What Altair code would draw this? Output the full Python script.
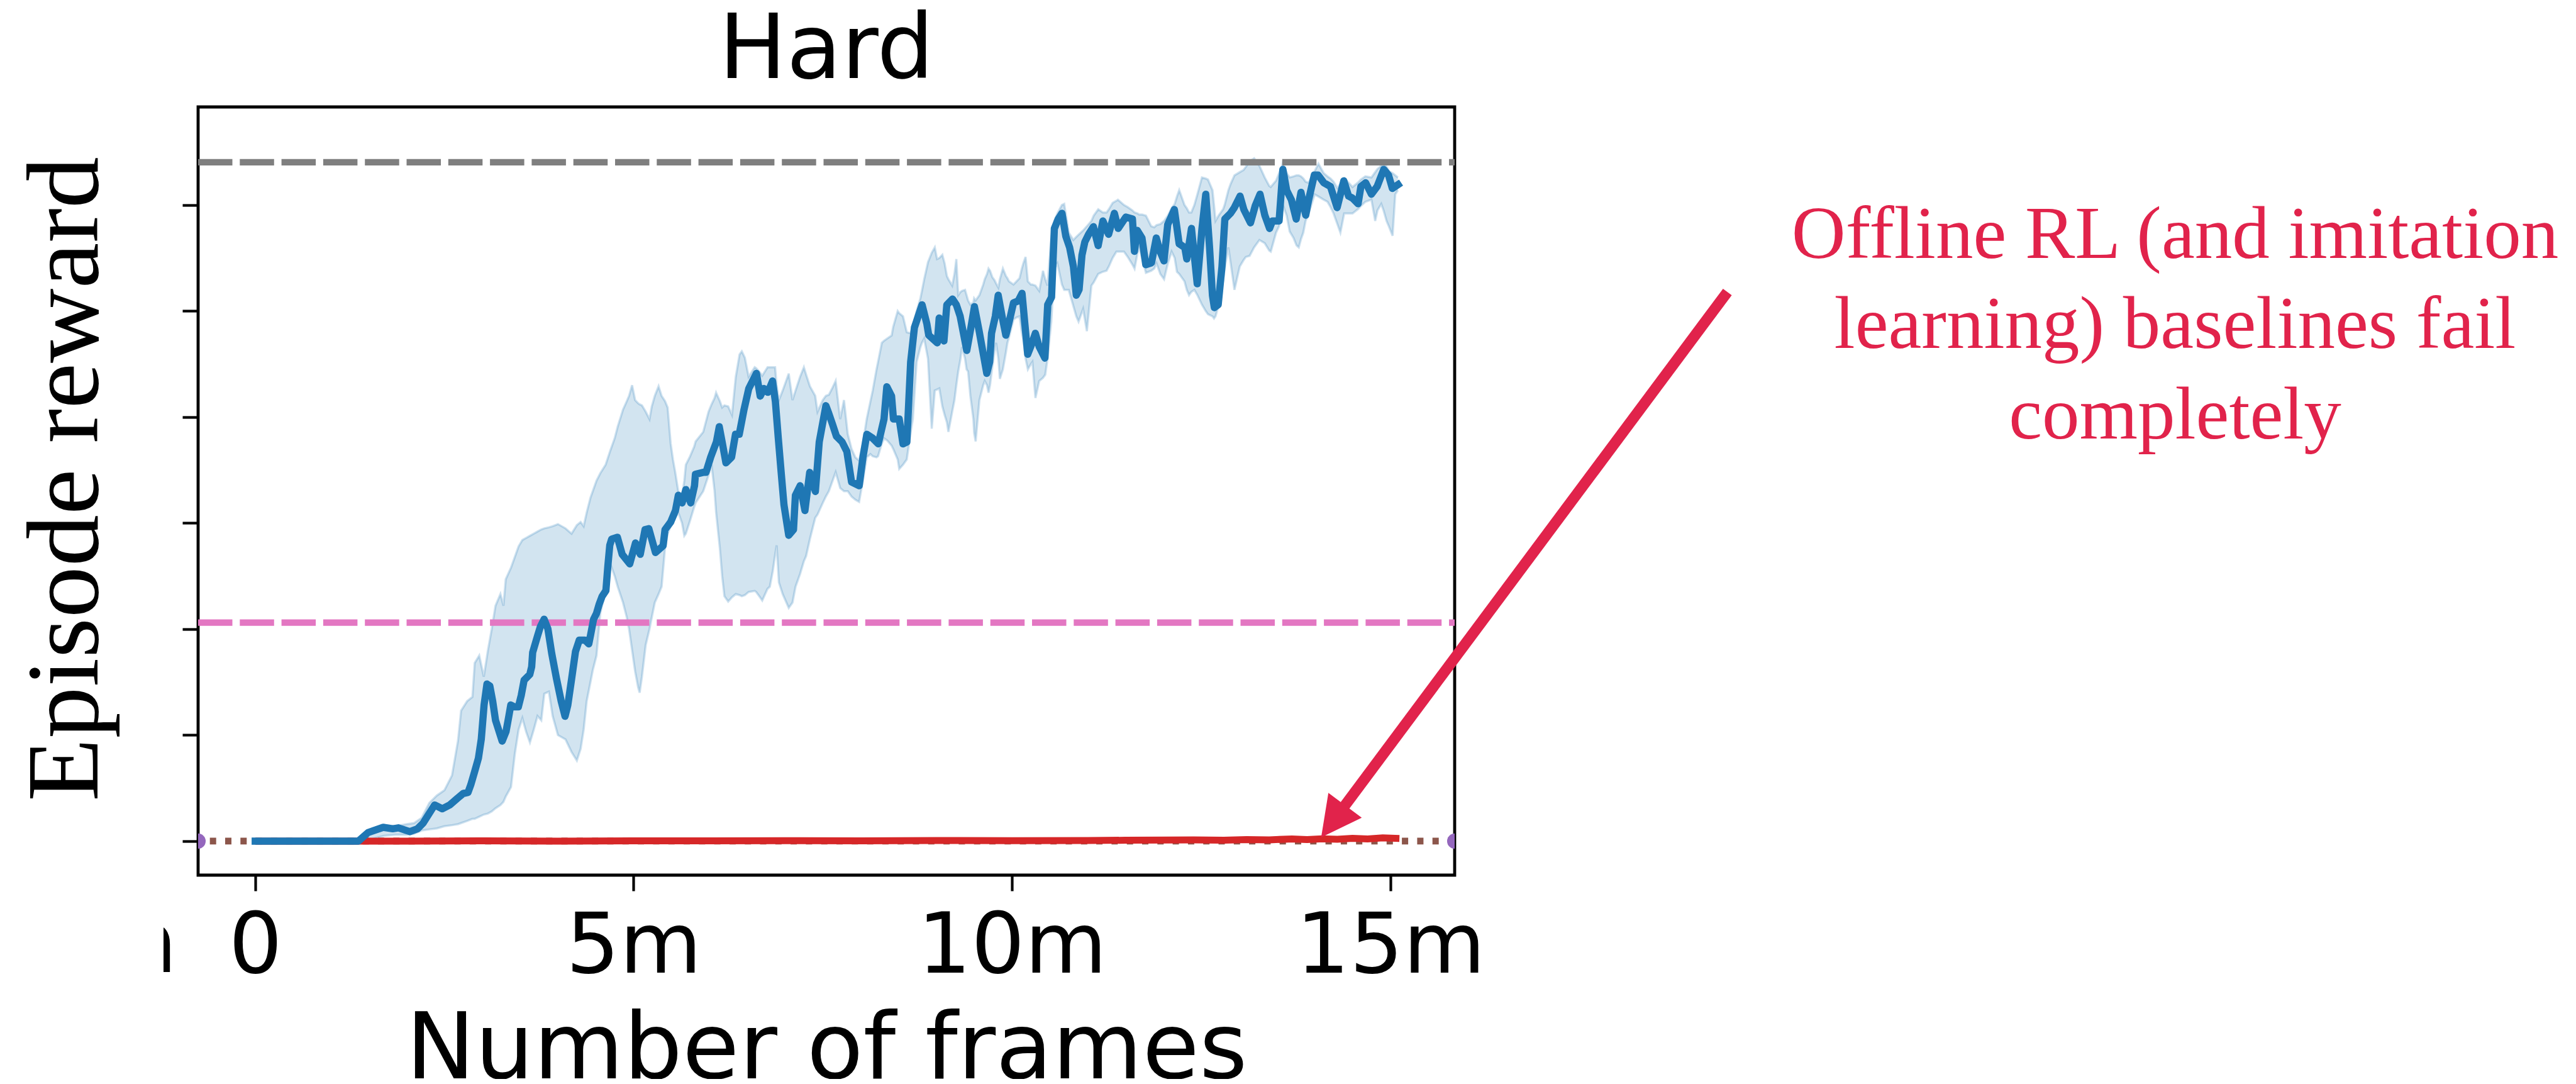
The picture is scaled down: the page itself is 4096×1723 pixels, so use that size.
import math
import altair as alt
import pandas as pd

# ------------------------------------------------------------------ data
title_text = "Hard"
x_title = "Number of frames"
y_title = "Episode reward"
x_ticks = [0, 5, 10, 15]
x_tick_labels = ["0", "5m", "10m", "15m"]
y_ticks = [0, 1, 2, 3, 4, 5, 6]
x_domain = [-0.755, 15.85]
y_domain = [-0.321, 6.925]
stray_label = "m"   # clipped remnant of a neighbouring tick label at the far left

# mean episode reward of the method (millions of frames, reward units)
mean_x = [
    0.0, 1.364, 1.49, 1.691, 1.817, 1.892, 2.043, 2.144, 2.219, 2.37,
    2.471, 2.571, 2.672, 2.748, 2.811, 2.848, 2.899, 2.949, 2.987, 3.024,
    3.062, 3.1, 3.138, 3.175, 3.263, 3.314, 3.351, 3.377, 3.427, 3.477,
    3.515, 3.553, 3.628, 3.653, 3.666, 3.729, 3.767, 3.817, 3.867, 3.918,
    3.98, 4.043, 4.094, 4.131, 4.182, 4.232, 4.282, 4.358, 4.408, 4.433,
    4.471, 4.509, 4.546, 4.584, 4.634, 4.66, 4.685, 4.71, 4.786, 4.849,
    4.949, 5.025, 5.088, 5.151, 5.201, 5.289, 5.39, 5.415, 5.49, 5.553,
    5.591, 5.641, 5.691, 5.754, 5.805, 5.817, 5.918, 5.956, 6.019, 6.094,
    6.132, 6.17, 6.22, 6.295, 6.346, 6.396, 6.459, 6.522, 6.623, 6.673,
    6.723, 6.774, 6.836, 6.874, 6.912, 6.95, 6.987, 7.05, 7.113, 7.138,
    7.201, 7.264, 7.327, 7.402, 7.453, 7.541, 7.579, 7.629, 7.68, 7.755,
    7.818, 7.88, 7.981, 8.031, 8.082, 8.158, 8.233, 8.309, 8.346, 8.409,
    8.434, 8.51, 8.56, 8.611, 8.661, 8.711, 8.761, 8.812, 8.875, 8.9,
    9.013, 9.038, 9.101, 9.139, 9.214, 9.265, 9.315, 9.403, 9.453, 9.504,
    9.567, 9.617, 9.667, 9.705, 9.73, 9.78, 9.818, 9.869, 9.919, 9.957,
    10.02, 10.082, 10.133, 10.17, 10.208, 10.258, 10.309, 10.359, 10.435, 10.472,
    10.523, 10.56, 10.611, 10.661, 10.711, 10.762, 10.812, 10.85, 10.887, 10.925,
    10.963, 11.013, 11.076, 11.139, 11.202, 11.277, 11.353, 11.404, 11.504, 11.592,
    11.618, 11.655, 11.718, 11.768, 11.844, 11.907, 11.957, 12.008, 12.058, 12.146,
    12.209, 12.284, 12.31, 12.372, 12.448, 12.511, 12.561, 12.611, 12.649, 12.674,
    12.725, 12.775, 12.813, 12.888, 12.939, 13.014, 13.064, 13.152, 13.215, 13.278,
    13.341, 13.404, 13.442, 13.53, 13.58, 13.63, 13.693, 13.756, 13.819, 13.882,
    13.92, 13.995, 14.046, 14.121, 14.209, 14.297, 14.385, 14.448, 14.498, 14.574,
    14.611, 14.674, 14.75, 14.825, 14.913, 14.976, 15.027, 15.102,
]
mean_y = [
    0.0, 0.0, 0.08, 0.13, 0.116, 0.125, 0.089, 0.116, 0.17, 0.341,
    0.305, 0.341, 0.404, 0.449, 0.458, 0.53, 0.655, 0.781, 0.961, 1.284,
    1.482, 1.464, 1.32, 1.141, 0.943, 1.033, 1.177, 1.284, 1.266, 1.266,
    1.374, 1.518, 1.572, 1.644, 1.779, 1.932, 2.021, 2.093, 2.003, 1.77,
    1.536, 1.32, 1.177, 1.284, 1.536, 1.788, 1.896, 1.896, 1.86, 1.95,
    2.093, 2.147, 2.237, 2.309, 2.363, 2.597, 2.79, 2.848, 2.866, 2.705,
    2.615, 2.812, 2.705, 2.938, 2.947, 2.722, 2.786, 2.938, 3.01, 3.118,
    3.262, 3.19, 3.316, 3.19, 3.352, 3.46, 3.478, 3.478, 3.622, 3.765,
    3.909, 3.765, 3.568, 3.622, 3.837, 3.837, 4.071, 4.269, 4.412, 4.197,
    4.269, 4.233, 4.34, 4.143, 3.801, 3.478, 3.172, 2.884, 2.938, 3.262,
    3.352, 3.118, 3.478, 3.298, 3.765, 4.107, 4.035, 3.93, 3.819, 3.765,
    3.675, 3.388, 3.352, 3.622, 3.837, 3.801, 3.747, 3.981, 4.286, 4.197,
    3.981, 3.981, 3.747, 3.765, 4.52, 4.844, 4.951, 5.059, 4.88, 4.772,
    4.7, 4.934, 4.718, 5.059, 5.113, 5.059, 4.951, 4.628, 4.826, 5.041,
    4.808, 4.61, 4.412, 4.52, 4.79, 4.951, 5.149, 4.951, 4.772, 4.88,
    5.077, 5.095, 5.167, 4.88, 4.592, 4.682, 4.79, 4.664, 4.556, 5.059,
    5.131, 5.778, 5.868, 5.922, 5.706, 5.599, 5.419, 5.149, 5.203, 5.527,
    5.652, 5.724, 5.796, 5.617, 5.85, 5.724, 5.922, 5.779, 5.886, 5.868,
    5.563, 5.761, 5.689, 5.437, 5.455, 5.689, 5.563, 5.473, 5.815, 5.958,
    5.635, 5.599, 5.491, 5.779, 5.257, 5.779, 6.102, 5.599, 5.149, 5.032,
    5.059, 5.419, 5.868, 5.922, 5.976, 6.084, 5.958, 5.832, 5.994, 6.102,
    5.904, 5.779, 5.85, 5.85, 6.336, 6.138, 6.048, 5.868, 6.12, 5.904,
    6.048, 6.282, 6.282, 6.21, 6.174, 5.976, 6.228, 6.084, 6.066, 6.012,
    6.174, 6.21, 6.102, 6.174, 6.336, 6.282, 6.156, 6.192,
]

# shaded spread around the mean
band_x = [
    1.364, 1.45, 1.55, 1.7, 1.85, 2.0, 2.1, 2.2, 2.3, 2.4,
    2.5, 2.6, 2.68, 2.72, 2.8, 2.87, 2.9, 2.96, 3.02, 3.075,
    3.125, 3.175, 3.24, 3.28, 3.31, 3.38, 3.43, 3.48, 3.53, 3.58,
    3.63, 3.68, 3.73, 3.78, 3.82, 3.88, 3.93, 4.0, 4.1, 4.18,
    4.25, 4.3, 4.34, 4.38, 4.43, 4.46, 4.51, 4.56, 4.63, 4.69,
    4.75, 4.79, 4.86, 4.91, 4.94, 4.98, 5.02, 5.06, 5.08, 5.11,
    5.16, 5.21, 5.24, 5.28, 5.33, 5.37, 5.415, 5.45, 5.49, 5.52,
    5.55, 5.59, 5.64, 5.67, 5.69, 5.74, 5.8, 5.82, 5.92, 5.99,
    6.03, 6.07, 6.09, 6.14, 6.17, 6.2, 6.25, 6.3, 6.35, 6.4,
    6.43, 6.47, 6.52, 6.6, 6.62, 6.67, 6.7, 6.77, 6.8, 6.84,
    6.87, 6.89, 6.92, 6.97, 7.05, 7.1, 7.14, 7.2, 7.25, 7.28,
    7.33, 7.4, 7.43, 7.5, 7.54, 7.58, 7.63, 7.67, 7.73, 7.78,
    7.83, 7.88, 7.93, 7.98, 8.03, 8.08, 8.13, 8.16, 8.21, 8.23,
    8.28, 8.31, 8.35, 8.41, 8.43, 8.49, 8.51, 8.56, 8.61, 8.66,
    8.69, 8.74, 8.79, 8.81, 8.84, 8.89, 8.94, 8.98, 9.01, 9.04,
    9.08, 9.11, 9.14, 9.16, 9.21, 9.24, 9.265, 9.29, 9.32, 9.34,
    9.38, 9.4, 9.42, 9.45, 9.49, 9.5, 9.52, 9.57, 9.62, 9.64,
    9.67, 9.69, 9.71, 9.74, 9.77, 9.79, 9.82, 9.84, 9.88, 9.92,
    9.94, 9.96, 10.02, 10.06, 10.1, 10.13, 10.15, 10.18, 10.21, 10.25,
    10.27, 10.31, 10.36, 10.41, 10.44, 10.47, 10.52, 10.56, 10.6, 10.66,
    10.69, 10.75, 10.81, 10.85, 10.88, 10.94, 10.99, 11.05, 11.08, 11.14,
    11.2, 11.25, 11.28, 11.33, 11.38, 11.4, 11.48, 11.53, 11.59, 11.62,
    11.66, 11.68, 11.72, 11.77, 11.84, 11.88, 11.91, 11.96, 12.01, 12.06,
    12.11, 12.15, 12.18, 12.21, 12.28, 12.31, 12.34, 12.37, 12.41, 12.45,
    12.51, 12.56, 12.59, 12.65, 12.67, 12.69, 12.73, 12.79, 12.81, 12.86,
    12.89, 12.94, 13.01, 13.06, 13.09, 13.14, 13.2, 13.27, 13.34, 13.4,
    13.42, 13.49, 13.53, 13.57, 13.58, 13.63, 13.67, 13.72, 13.76, 13.79,
    13.82, 13.85, 13.88, 13.92, 14.0, 14.05, 14.12, 14.17, 14.21, 14.25,
    14.3, 14.34, 14.39, 14.45, 14.5, 14.57, 14.61, 14.67, 14.75, 14.8,
    14.83, 14.88, 14.91, 14.95, 14.98, 15.03, 15.065, 15.1,
]
band_lo = [
    0.0, 0.0, 0.02, 0.05, 0.06, 0.06, 0.07, 0.10, 0.11, 0.12,
    0.14, 0.15, 0.16, 0.17, 0.19, 0.21, 0.21, 0.23, 0.25, 0.26,
    0.28, 0.31, 0.34, 0.37, 0.42, 0.51, 0.82, 1.05, 1.16, 1.03,
    0.93, 1.05, 1.18, 1.14, 1.39, 1.41, 1.18, 1.00, 0.96, 0.84,
    0.76, 0.87, 1.05, 1.32, 1.50, 1.61, 1.75, 2.15, 2.36, 2.62,
    2.50, 2.40, 2.25, 2.11, 2.00, 1.80, 1.60, 1.45, 1.40, 1.55,
    1.85, 2.00, 2.11, 2.25, 2.33, 2.40, 2.76, 2.90, 2.97, 3.01,
    3.05, 3.10, 3.00, 2.88, 2.90, 3.01, 3.15, 3.19, 3.30, 3.45,
    3.55, 3.30, 3.10, 2.76, 2.50, 2.31, 2.26, 2.30, 2.33, 2.32,
    2.31, 2.32, 2.35, 2.36, 2.35, 2.30, 2.27, 2.38, 2.40, 2.55,
    2.70, 2.79, 2.44, 2.33, 2.20, 2.25, 2.40, 2.52, 2.64, 2.69,
    2.85, 3.05, 3.08, 3.19, 3.25, 3.30, 3.40, 3.48, 3.33, 3.30,
    3.30, 3.25, 3.22, 3.20, 3.40, 3.62, 3.65, 3.63, 3.62, 3.63,
    3.75, 3.80, 3.78, 3.73, 3.70, 3.60, 3.51, 3.55, 3.60, 3.85,
    3.98, 4.52, 4.66, 4.70, 4.74, 4.55, 3.89, 4.25, 4.26, 4.27,
    4.10, 4.02, 3.95, 3.86, 4.05, 4.16, 4.30, 4.43, 4.55, 4.66,
    4.55, 4.45, 4.43, 4.20, 3.98, 3.85, 3.77, 4.16, 4.30, 4.34,
    4.30, 4.23, 4.30, 4.47, 4.62, 4.70, 4.55, 4.36, 4.45, 4.61,
    4.70, 4.75, 4.92, 4.94, 4.95, 4.80, 4.73, 4.55, 4.45, 4.50,
    4.52, 4.18, 4.34, 4.37, 4.40, 4.55, 4.90, 5.40, 5.45, 5.25,
    5.20, 5.20, 5.05, 4.95, 4.90, 5.02, 4.81, 5.24, 5.27, 5.35,
    5.37, 5.38, 5.42, 5.50, 5.56, 5.56, 5.56, 5.51, 5.44, 5.40,
    5.55, 5.60, 5.50, 5.36, 5.38, 5.40, 5.45, 5.35, 5.30, 5.45,
    5.56, 5.50, 5.37, 5.35, 5.28, 5.20, 5.15, 5.18, 5.20, 5.15,
    5.06, 5.00, 4.97, 4.95, 4.93, 4.95, 5.05, 5.29, 5.40, 5.60,
    5.45, 5.20, 5.42, 5.48, 5.51, 5.52, 5.60, 5.67, 5.64, 5.57,
    5.56, 5.74, 5.80, 5.96, 6.00, 5.90, 5.75, 5.69, 5.62, 5.60,
    5.68, 5.74, 5.85, 5.92, 6.10, 6.08, 6.05, 6.03, 5.98, 5.92,
    5.82, 5.74, 5.92, 5.92, 5.92, 5.96, 5.99, 6.03, 6.05, 5.85,
    5.95, 6.01, 5.95, 5.85, 5.80, 5.71, 6.10, 6.14,
]
band_hi = [
    0.0, 0.07, 0.12, 0.15, 0.14, 0.16, 0.17, 0.22, 0.36, 0.43,
    0.48, 0.62, 0.95, 1.23, 1.32, 1.36, 1.68, 1.75, 1.55, 1.80,
    2.00, 2.22, 2.33, 2.22, 2.47, 2.58, 2.68, 2.78, 2.84, 2.86,
    2.88, 2.90, 2.92, 2.94, 2.95, 2.96, 2.97, 2.99, 2.95, 2.90,
    2.98, 3.01, 2.97, 3.10, 3.24, 3.30, 3.40, 3.47, 3.55, 3.68,
    3.80, 3.91, 4.07, 4.15, 4.20, 4.30, 4.16, 4.13, 4.12, 4.11,
    4.05, 3.98, 4.10, 4.20, 4.29, 4.20, 4.15, 4.09, 3.75, 3.60,
    3.48, 3.30, 3.25, 3.40, 3.55, 3.62, 3.72, 3.77, 3.86, 4.05,
    4.12, 4.18, 4.23, 4.15, 4.09, 4.11, 4.10, 4.02, 4.38, 4.59,
    4.62, 4.56, 4.38, 4.47, 4.46, 4.42, 4.39, 4.47, 4.47, 4.47,
    4.47, 4.30, 4.16, 4.25, 4.41, 4.16, 4.25, 4.38, 4.47, 4.40,
    4.29, 4.20, 4.05, 4.16, 4.20, 4.21, 4.28, 4.34, 3.98, 4.16,
    3.84, 3.70, 3.62, 3.59, 3.75, 3.98, 4.15, 4.25, 4.45, 4.52,
    4.70, 4.72, 4.74, 4.77, 4.85, 5.00, 4.98, 4.95, 4.80, 4.79,
    4.85, 5.00, 5.12, 5.19, 5.30, 5.46, 5.55, 5.60, 5.49, 5.50,
    5.53, 5.45, 5.33, 5.30, 5.24, 5.35, 5.49, 5.15, 5.18, 5.19,
    5.20, 5.15, 5.10, 5.06, 5.08, 5.12, 5.10, 5.15, 5.25, 5.30,
    5.35, 5.40, 5.38, 5.32, 5.29, 5.26, 5.22, 5.30, 5.40, 5.33,
    5.31, 5.28, 5.25, 5.28, 5.31, 5.40, 5.45, 5.51, 5.28, 5.25,
    5.25, 5.24, 5.19, 5.38, 5.30, 5.24, 5.69, 5.85, 5.92, 6.00,
    6.01, 5.74, 5.67, 5.70, 5.72, 5.76, 5.80, 5.85, 5.90, 5.96,
    5.93, 5.93, 5.96, 6.02, 6.04, 6.05, 6.00, 5.98, 5.95, 5.93,
    5.92, 5.91, 5.91, 5.90, 5.80, 5.79, 5.81, 5.82, 5.85, 5.90,
    5.97, 6.01, 6.08, 6.14, 6.00, 5.97, 5.93, 5.93, 6.00, 6.10,
    6.26, 6.25, 6.24, 6.14, 6.00, 5.85, 5.90, 5.96, 6.00, 6.14,
    6.20, 6.28, 6.31, 6.33, 6.36, 6.41, 6.44, 6.37, 6.26, 6.18,
    6.17, 6.23, 6.30, 6.37, 6.40, 6.30, 6.26, 6.27, 6.28, 6.28,
    6.27, 6.25, 6.22, 6.21, 6.32, 6.39, 6.30, 6.27, 6.25, 6.22,
    6.16, 6.20, 6.25, 6.21, 6.17, 6.21, 6.24, 6.27, 6.26, 6.31,
    6.34, 6.37, 6.39, 6.36, 6.32, 6.30, 6.28, 6.26,
]

# offline RL / imitation baselines (flat at zero)
offline_x = [0.0, 1.0, 2.0, 3.0, 4.0, 5.0, 6.0, 7.0, 8.0, 9.0, 10.0, 11.0, 11.5,
             12.0, 12.4, 12.8, 13.1, 13.4, 13.7, 13.9, 14.1, 14.3, 14.5, 14.7, 14.9, 15.12]
offline_y = [0.0, 0.0, 0.0, 0.002, 0.0, 0.003, 0.002, 0.004, 0.003, 0.005, 0.004, 0.006, 0.008,
             0.01, 0.012, 0.009, 0.015, 0.012, 0.02, 0.015, 0.022, 0.018, 0.026, 0.02, 0.03, 0.025]

expert_level = 6.404   # grey dashed reference
demo_level = 2.061     # pink dashed reference
zero_level = 0.0       # brown dotted / purple reference

note_lines = ["Offline RL (and imitation", "learning) baselines fail", "completely"]
arrow_start = (19.454, 5.180)   # data coords of the arrow tail
arrow_tip = (14.086, 0.035)     # data coords of the arrow tip
note_pos = (25.37, 5.503)       # data coords of the first text baseline

# ------------------------------------------------------------------ layout
W, H = 1998, 1221
NOTE = "#e1234b"
px_x = W / (x_domain[1] - x_domain[0])
px_y = H / (y_domain[1] - y_domain[0])

# arrow geometry (pixel space)
dxp = (arrow_tip[0] - arrow_start[0]) * px_x
dyp = -(arrow_tip[1] - arrow_start[1]) * px_y
L = math.hypot(dxp, dyp)
ux, uy = dxp / L, dyp / L
HEAD_LEN = 63.6
head_angle = (math.degrees(math.atan2(ux, -uy)) + 360) % 360
shaft_end = (arrow_tip[0] - ux * 55 / px_x, arrow_tip[1] + uy * 55 / px_y)
head_c = (arrow_tip[0] - ux * HEAD_LEN / 2 / px_x, arrow_tip[1] + uy * HEAD_LEN / 2 / px_y)

# chart title, drawn as text centred above the frame (baseline 45.6 px above it)
title_pos = ((x_domain[0] + x_domain[1]) / 2, y_domain[1] + 45.6 / px_y)

# clipped stray label remnant: text anchored left of the frame plus a white mask
LABEL_BASE = 154.3
stray_pos = (x_domain[0] - 33.5 / px_x, y_domain[0] - LABEL_BASE / px_y)
mask_box = (x_domain[0] - 230 / px_x, x_domain[0] - 55 / px_x,
            y_domain[0] - 60 / px_y, y_domain[0] - 175 / px_y)

label_expr = "".join(f"datum.value == {v} ? '{t}' : " for v, t in zip(x_ticks, x_tick_labels)) + "''"

xs = alt.Scale(domain=x_domain, nice=False, zero=False)
ys = alt.Scale(domain=y_domain, nice=False, zero=False)

x_axis = alt.Axis(
    values=x_ticks, labelExpr=label_expr, grid=False, domain=False,
    tickSize=25, tickWidth=4.2, tickColor="black",
    labelFont="DejaVu Sans", labelFontSize=134, labelColor="black",
    labelBaseline="alphabetic", labelPadding=LABEL_BASE - 25, labelAngle=0,
    labelFlush=False, labelOverlap=False, labelLimit=2000,
    title=x_title, titleFont="DejaVu Sans", titleFontSize=147,
    titleFontWeight="normal", titleColor="black", titleBaseline="alphabetic",
    titleAlign="center", titleX=W / 2, titleY=322, titleLimit=4000,
)
y_axis = alt.Axis(
    values=y_ticks, labels=False, grid=False, domain=False,
    tickSize=25, tickWidth=4.2, tickColor="black",
    title=y_title, titleFont="Liberation Serif", titleFontSize=164,
    titleFontWeight="normal", titleColor="black", titleAngle=270,
    titleBaseline="alphabetic", titleAlign="center", titleX=-160.7, titleY=591,
    titleLimit=4000,
)


def X(f):
    return alt.X(f"{f}:Q", scale=xs, axis=x_axis)


def Y(f):
    return alt.Y(f"{f}:Q", scale=ys, axis=y_axis)


mean_df = pd.DataFrame({"x": mean_x, "y": mean_y})
band_df = pd.DataFrame({"x": band_x, "lo": band_lo, "hi": band_hi})
off_df = pd.DataFrame({"x": offline_x, "y": offline_y})


def hline(level):
    return pd.DataFrame({"x": x_domain, "y": [level, level]})


band = alt.Chart(band_df).mark_area(color="#1f77b4", opacity=0.2).encode(
    x=X("x"), y=Y("hi"), y2="lo:Q")
band_top = alt.Chart(band_df).mark_line(color="#1f77b4", opacity=0.22, strokeWidth=3.5).encode(
    x=X("x"), y=Y("hi"))
band_bot = alt.Chart(band_df).mark_line(color="#1f77b4", opacity=0.22, strokeWidth=3.5).encode(
    x=X("x"), y=Y("lo"))

grey = alt.Chart(hline(expert_level)).mark_line(
    color="#7f7f7f", strokeWidth=10.3, strokeDash=[54.5, 11.8], strokeCap="butt").encode(
    x=X("x"), y=Y("y"))
pink = alt.Chart(hline(demo_level)).mark_line(
    color="#e377c2", strokeWidth=10.3, strokeDash=[54.5, 11.8], strokeCap="butt").encode(
    x=X("x"), y=Y("y"))
brown = alt.Chart(hline(zero_level)).mark_line(
    color="#8c564b", strokeWidth=10.6, strokeDash=[10, 14.3], strokeDashOffset=5.6,
    strokeCap="butt").encode(x=X("x"), y=Y("y"))
purple = alt.Chart(hline(zero_level)).mark_circle(
    color="#9467bd", size=580, opacity=1, clip=True).encode(x=X("x"), y=Y("y"))

red = alt.Chart(off_df).mark_line(color="#d62728", strokeWidth=11, strokeCap="butt").encode(
    x=X("x"), y=Y("y"))
blue = alt.Chart(mean_df).mark_line(
    color="#1f77b4", strokeWidth=11.5, strokeJoin="round", strokeCap="square").encode(
    x=X("x"), y=Y("y"))

shaft_df = pd.DataFrame({"x": [arrow_start[0]], "y": [arrow_start[1]],
                         "x2": [shaft_end[0]], "y2": [shaft_end[1]]})
shaft = alt.Chart(shaft_df).mark_rule(color=NOTE, strokeWidth=17.3, strokeCap="butt").encode(
    x=X("x"), y=Y("y"), x2="x2:Q", y2="y2:Q")
head_df = pd.DataFrame({"x": [head_c[0]], "y": [head_c[1]]})
head = alt.Chart(head_df).mark_point(
    shape="M0,-1L1.04,1L-1.04,1Z", size=(HEAD_LEN) ** 2, filled=True, opacity=1,
    color=NOTE, strokeWidth=0, angle=round(head_angle, 2)).encode(x=X("x"), y=Y("y"))

note_df = pd.DataFrame({"x": [note_pos[0]], "y": [note_pos[1]]})
note = alt.Chart(note_df).mark_text(
    text=note_lines, font="Liberation Serif", fontSize=119, color=NOTE,
    align="center", baseline="alphabetic", lineHeight=143.8).encode(x=X("x"), y=Y("y"))

title_df = pd.DataFrame({"x": [title_pos[0]], "y": [title_pos[1]]})
title = alt.Chart(title_df).mark_text(
    text=title_text, font="DejaVu Sans", fontSize=143, color="black",
    align="center", baseline="alphabetic").encode(x=X("x"), y=Y("y"))

stray_df = pd.DataFrame({"x": [stray_pos[0]], "y": [stray_pos[1]]})
stray = alt.Chart(stray_df).mark_text(
    text=stray_label, font="DejaVu Sans", fontSize=134, color="black",
    align="right", baseline="alphabetic").encode(x=X("x"), y=Y("y"))
mask_df = pd.DataFrame({"x": [mask_box[0]], "x2": [mask_box[1]],
                        "y": [mask_box[2]], "y2": [mask_box[3]]})
mask = alt.Chart(mask_df).mark_rect(color="white", opacity=1, strokeWidth=0).encode(
    x=X("x"), x2="x2:Q", y=Y("y"), y2="y2:Q")

chart = alt.layer(
    band, band_top, band_bot, grey, pink, brown, purple, red, blue, shaft, head, note,
    title, stray, mask
).properties(
    width=W, height=H,
    autosize=alt.AutoSizeParams(type="none"),
    padding={"left": 307, "top": 162, "right": 1760, "bottom": 324},
    background="white",
).configure_view(stroke="black", strokeWidth=4.8)

chart.save("out.html", embed_options={"renderer": "svg", "actions": False})
